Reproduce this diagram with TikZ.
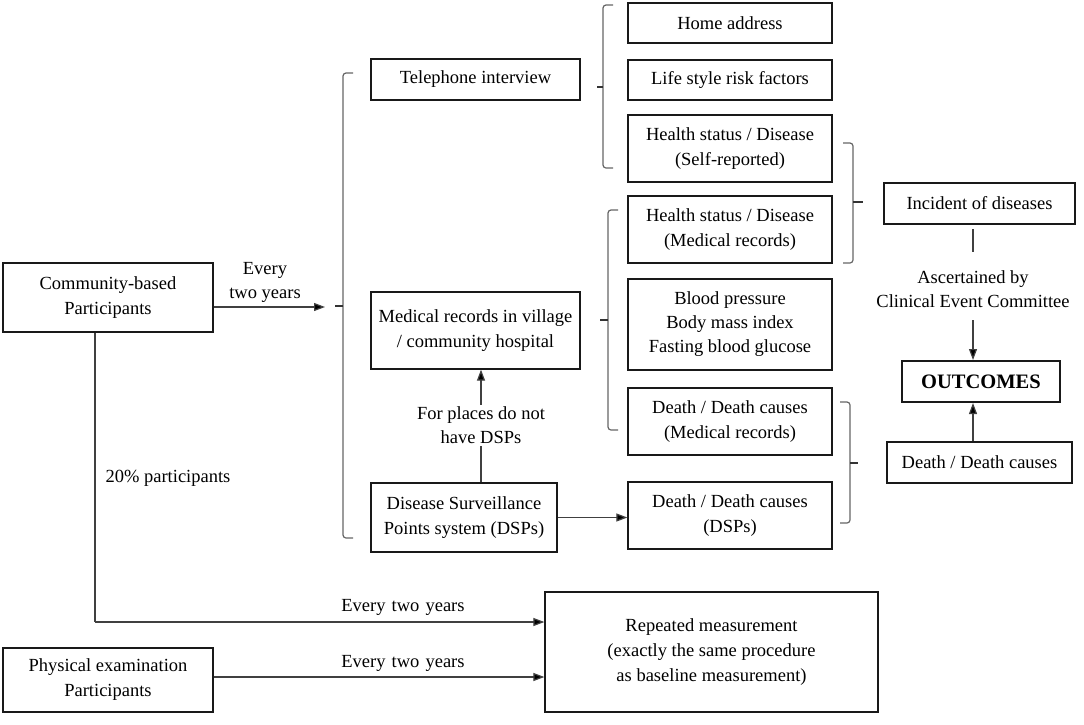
\documentclass[tikz,border=0pt]{standalone}
\usepackage{fontspec}
\setmainfont{Liberation Serif}
\usetikzlibrary{arrows.meta,calc}
\begin{document}
\begin{tikzpicture}[x=1pt,y=-1pt,
  box/.style={draw=black!90, line width=1.3pt, align=center, inner sep=0pt, font=\fontsize{18.5}{25}\selectfont},
  lbl/.style={align=center, inner sep=0pt, font=\fontsize{18.5}{24}\selectfont},
  brace/.style={draw=black!60, line width=1.2pt, rounded corners=3pt},
  tip/.style={draw=black!80, line width=1.4pt},
  arr/.style={draw=black!75, line width=1.2pt, -{Triangle[length=11pt,width=8pt,fill=black]}},
  ln/.style={draw=black!75, line width=1.2pt}]
\useasboundingbox (0,0) rectangle (1084,724);
% left column
\node[box, minimum width=210, minimum height=69] (comm) at (108,297.5) {Community-based\\Participants};
\node[box, minimum width=210, minimum height=64] (phys) at (108,680) {Physical examination\\Participants};
% middle column
\node[box, minimum width=209, minimum height=41] (tel) at (475.5,79.5) {Telephone interview};
\node[box, minimum width=209, minimum height=77] (med) at (475.5,330.5) {Medical records in village\\/ community hospital};
\node[box, minimum width=186, minimum height=69] (dsp) at (464,517.5) {Disease Surveillance\\Points system (DSPs)};
% right column
\node[box, minimum width=204, minimum height=40] (home) at (730,23) {Home address};
\node[box, minimum width=204, minimum height=40] (life) at (730,80) {Life style risk factors};
\node[box, minimum width=204, minimum height=67] (hsself) at (730,148.5) {Health status / Disease\\(Self-reported)};
\node[box, minimum width=204, minimum height=67] (hsmed) at (730,229.5) {Health status / Disease\\(Medical records)};
\node[box, minimum width=204, minimum height=91, font=\fontsize{18.5}{24}\selectfont] (bp) at (730,324.5) {Blood pressure\\Body mass index\\Fasting blood glucose};
\node[box, minimum width=204, minimum height=67] (ddmed) at (730,421.5) {Death / Death causes\\(Medical records)};
\node[box, minimum width=204, minimum height=67] (dddsp) at (730,515.5) {Death / Death causes\\(DSPs)};
% far right
\node[box, minimum width=191, minimum height=41] (incid) at (979.5,203.5) {Incident of diseases};
\node[box, minimum width=158, minimum height=41, line width=2pt, font=\fontsize{20.5}{22}\selectfont\bfseries] (out) at (981,381.5) {OUTCOMES};
\node[box, minimum width=185, minimum height=41] (death) at (979.5,462.5) {Death / Death causes};
\node[lbl] (asc) at (973,289) {Ascertained by\\Clinical Event Committee};
% bottom
\node[box, minimum width=333, minimum height=120] (rep) at (711.5,652) {Repeated measurement\\(exactly the same procedure\\as baseline measurement)};
% braces
\draw[brace] (353,73) -- (343,73) -- (343,538) -- (353,538);
\coordinate (bt1) at (335,306);
\draw[tip] (343,306) -- (bt1);
\draw[brace] (613,5) -- (603,5) -- (603,168) -- (613,168);
\coordinate (bt2) at (597,87);
\draw[tip] (603,87) -- (bt2);
\draw[brace] (618,210) -- (608,210) -- (608,430) -- (618,430);
\coordinate (bt3) at (600,320);
\draw[tip] (608,320) -- (bt3);
\draw[brace] (843,143) -- (853,143) -- (853,263) -- (843,263);
\coordinate (bt4) at (863,202);
\draw[tip] (853,202) -- (bt4);
\draw[brace] (840,402) -- (850,402) -- (850,523) -- (840,523);
\coordinate (bt5) at (858,463);
\draw[tip] (850,463) -- (bt5);
% connectors
\coordinate (a1) at (325,307);
\draw[arr] (comm.east |- a1) -- (a1);
\node[lbl] at (265,282) {Every\\two years};
\coordinate (dx) at (481,0);
\draw[arr] (dsp.north -| dx) -- (med.south -| dx);
\node[lbl, fill=white, inner sep=2pt] at (481,425) {For places do not\\have DSPs};
\draw[arr] (dsp.east) -- (dsp.east -| dddsp.west);
\coordinate (ax) at (973,0);
\coordinate (c1) at (973,229);
\coordinate (c2) at (973,252);
\draw[ln] (c1) -- (c2);
\coordinate (c3) at (973,320);
\draw[arr] (c3) -- (out.north -| ax);
\draw[arr] (death.north -| ax) -- (out.south -| ax);
% bottom connectors
\coordinate (vx) at (95,0);
\coordinate (corner) at (95,622);
\draw[ln] (comm.south -| vx) -- (corner);
\draw[arr] (corner) -- (corner -| rep.west);
\node[lbl] at (168,478) {20\% participants};
\node[lbl] at (403,607) {Every\hspace{0.33em}two\hspace{0.33em}years};
\coordinate (py) at (0,677);
\draw[arr] (phys.east |- py) -- (rep.west |- py);
\node[lbl] at (403,663) {Every\hspace{0.33em}two\hspace{0.33em}years};
\end{tikzpicture}
\end{document}
